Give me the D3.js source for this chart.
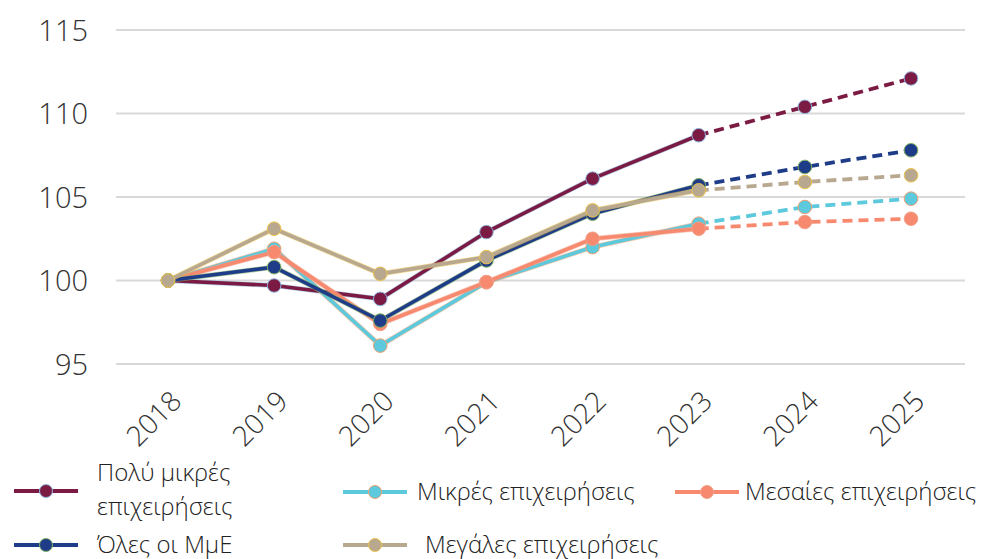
<!DOCTYPE html>
<html><head><meta charset="utf-8">
<script src="https://cdn.jsdelivr.net/npm/d3@7"></script>
<style>body{margin:0;background:#fff;} svg{display:block;}</style>
</head><body>
<svg id="chart" width="988" height="559"></svg>
<script>
const years = ["2018","2019","2020","2021","2022","2023","2024","2025"];
const veryFirms = [100, 99.7, 98.9, 102.9, 106.1, 108.7, 110.4, 112.1];
const smallFirms = [100, 101.9, 96.1, 99.9, 102.0, 103.4, 104.4, 104.9];
const mediumFirms = [100, 101.7, 97.4, 99.9, 102.5, 103.1, 103.5, 103.7];
const allSme = [100, 100.8, 97.6, 101.2, 104.0, 105.7, 106.8, 107.8];
const largeFirms = [100, 103.1, 100.4, 101.4, 104.2, 105.4, 105.9, 106.3];
const yTicks = [95, 100, 105, 110, 115];
const names = ["Πολύ μικρές επιχειρήσεις","Μικρές επιχειρήσεις","Μεσαίες επιχειρήσεις","Όλες οι ΜμΕ","Μεγάλες επιχειρήσεις"];
const forecastFrom = "2023";

const series = [
  {name:names[0], values:veryFirms, color:"#7B1A42", edge:"#8fb7e0"},
  {name:names[1], values:smallFirms, color:"#5CC9DC", edge:"#f0a070"},
  {name:names[2], values:mediumFirms, color:"#F7896F", edge:"#f2a08a"},
  {name:names[3], values:allSme, color:"#1F3C88", edge:"#7fb060"},
  {name:names[4], values:largeFirms, color:"#B8A890", edge:"#EBC34A"}
];

const svg = d3.select("#chart");
const x = d3.scalePoint().domain(years).range([168, 911]);
const y = d3.scaleLinear().domain([95, 115]).range([364, 30]);
const font = "'Open Sans', Lato, sans-serif";

// gridlines
svg.append("g").selectAll("line").data(yTicks).join("line")
  .attr("x1", 116).attr("x2", 965)
  .attr("y1", d => y(d)).attr("y2", d => y(d))
  .attr("stroke", "#d9d9d9").attr("stroke-width", 2);

// y labels
const yAxis = d3.axisLeft(y).tickValues(yTicks).tickSize(0).tickPadding(0);
const gy = svg.append("g").attr("transform", "translate(88,0)").call(yAxis);
gy.select(".domain").remove();
gy.selectAll("text").attr("font-family", font).attr("font-weight", 300).attr("font-size", 29).attr("fill", "#333").attr("dy", "0.35em");

// x labels
const xAxis = d3.axisBottom(x).tickSize(0).tickPadding(0);
const gx = svg.append("g").call(xAxis);
gx.select(".domain").remove();
gx.selectAll("text")
  .attr("font-family", font).attr("font-weight", 300).attr("font-size", 28).attr("fill", "#333")
  .attr("text-anchor", "end").attr("y", null)
  .attr("transform", "translate(0,388) rotate(-45)")
  .attr("dx","0").attr("dy","0.75em");

const idx = years.indexOf(forecastFrom);
const line = d3.line().x(d => x(d.year)).y(d => y(d.v));

series.forEach(s => {
  const pts = s.values.map((v,i) => ({year: years[i], v}));
  const solid = pts.slice(0, idx+1), dashed = pts.slice(idx);
  const g = svg.append("g");
  g.append("path").attr("d", line(solid)).attr("fill","none").attr("stroke", s.edge).attr("stroke-width", 5).attr("opacity",0.6);
  g.append("path").attr("d", line(solid)).attr("fill","none").attr("stroke", s.color).attr("stroke-width", 3.6);
  g.append("path").attr("d", line(dashed)).attr("fill","none").attr("stroke", s.color).attr("stroke-width", 3.8).attr("stroke-dasharray","10,6");
  g.selectAll("circle").data(pts).join("circle")
    .attr("cx", d => x(d.year)).attr("cy", d => y(d.v)).attr("r", 6.8)
    .attr("fill", s.color).attr("stroke", s.edge).attr("stroke-width", 1);
});

// legend
const legendItems = [
  {s:series[0], lx:14, ly:491, tx:97, lines:["Πολύ μικρές","επιχειρήσεις"]},
  {s:series[1], lx:343, ly:492, tx:417, lines:[names[1]]},
  {s:series[2], lx:675, ly:492, tx:745, lines:[names[2]]},
  {s:series[3], lx:14, ly:545, tx:97, lines:[names[3]]},
  {s:series[4], lx:343, ly:545, tx:425, lines:[names[4]]}
];
const lg = svg.append("g");
legendItems.forEach(it => {
  lg.append("line").attr("x1", it.lx).attr("x2", it.lx+64).attr("y1", it.ly).attr("y2", it.ly)
    .attr("stroke", it.s.color).attr("stroke-width", 4);
  lg.append("circle").attr("cx", it.lx+32).attr("cy", it.ly).attr("r", 6.5)
    .attr("fill", it.s.color).attr("stroke", it.s.edge).attr("stroke-width", 1);
  const t = lg.append("text").attr("font-family", font).attr("font-weight", 300).attr("font-size", 24).attr("fill", "#222");
  if (it.lines.length === 1) {
    t.append("tspan").attr("x", it.tx).attr("y", it.ly).attr("dy","0.35em").text(it.lines[0]);
  } else {
    t.append("tspan").attr("x", it.tx).attr("y", it.ly - 18).attr("dy","0.35em").text(it.lines[0]);
    t.append("tspan").attr("x", it.tx).attr("y", it.ly + 16).attr("dy","0.35em").text(it.lines[1]);
  }
});
</script>
</body></html>
